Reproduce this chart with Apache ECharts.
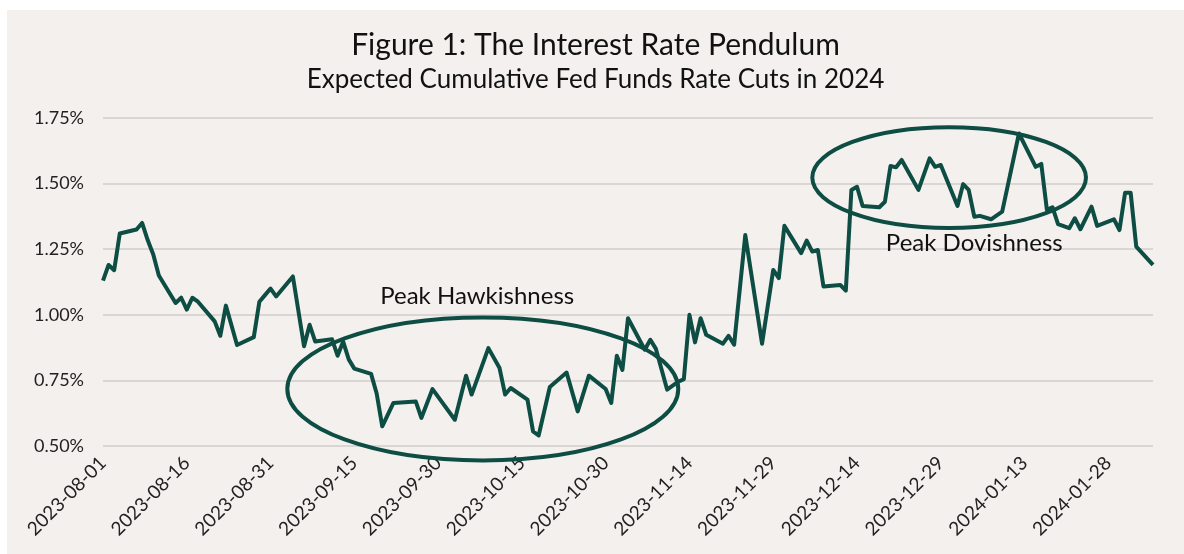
<!DOCTYPE html>
<html>
<head>
<meta charset="utf-8">
<script src="https://cdn.jsdelivr.net/npm/echarts@6/dist/echarts.min.js"></script>
<style>
  html, body { margin: 0; padding: 0; background: #ffffff; }
  #wrap { position: absolute; left: 7px; top: 10px; width: 1177px; height: 544px; background: #f3f0ed; }
  #main { width: 1177px; height: 544px; }
</style>
</head>
<body>
<div id="wrap"><div id="main"></div></div>
<script>
var dates = [
    '2023-08-01','2023-08-02','2023-08-03','2023-08-04','2023-08-07','2023-08-08','2023-08-09','2023-08-10','2023-08-11',
    '2023-08-14','2023-08-15','2023-08-16','2023-08-17','2023-08-18','2023-08-21','2023-08-22','2023-08-23','2023-08-24',
    '2023-08-25','2023-08-28','2023-08-29','2023-08-30','2023-08-31','2023-09-01','2023-09-04','2023-09-06','2023-09-07',
    '2023-09-08','2023-09-11','2023-09-12','2023-09-13','2023-09-14','2023-09-15','2023-09-18','2023-09-19','2023-09-20',
    '2023-09-22','2023-09-26','2023-09-27','2023-09-29','2023-10-03','2023-10-05','2023-10-06','2023-10-09','2023-10-11',
    '2023-10-12','2023-10-13','2023-10-16','2023-10-17','2023-10-18','2023-10-20','2023-10-23','2023-10-25','2023-10-27',
    '2023-10-30','2023-10-31','2023-11-01','2023-11-02','2023-11-03','2023-11-06','2023-11-07','2023-11-08','2023-11-10',
    '2023-11-12','2023-11-13','2023-11-14','2023-11-15','2023-11-16','2023-11-17','2023-11-20','2023-11-21','2023-11-22',
    '2023-11-24','2023-11-27','2023-11-29','2023-11-30','2023-12-01','2023-12-04','2023-12-05','2023-12-06','2023-12-07',
    '2023-12-08','2023-12-11','2023-12-12','2023-12-13','2023-12-14','2023-12-15','2023-12-18','2023-12-19','2023-12-20',
    '2023-12-21','2023-12-22','2023-12-25','2023-12-27','2023-12-28','2023-12-29','2024-01-01','2024-01-02','2024-01-03',
    '2024-01-04','2024-01-05','2024-01-07','2024-01-09','2024-01-12','2024-01-15','2024-01-16','2024-01-17','2024-01-18',
    '2024-01-19','2024-01-21','2024-01-22','2024-01-23','2024-01-25','2024-01-26','2024-01-29','2024-01-30','2024-01-31',
    '2024-02-01','2024-02-02','2024-02-05'
];
var cuts = [
    1.13, 1.19, 1.17, 1.31, 1.325, 1.35, 1.285, 1.23, 1.15,
    1.045, 1.065, 1.02, 1.065, 1.05, 0.975, 0.92, 1.035, 0.96,
    0.885, 0.915, 1.05, 1.075, 1.10, 1.07, 1.146, 0.88, 0.962,
    0.898, 0.907, 0.844, 0.898, 0.83, 0.795, 0.775, 0.70, 0.575,
    0.664, 0.67, 0.607, 0.717, 0.60, 0.768, 0.696, 0.873, 0.797,
    0.696, 0.721, 0.677, 0.556, 0.54, 0.725, 0.78, 0.632, 0.768,
    0.717, 0.664, 0.844, 0.79, 0.987, 0.867, 0.905, 0.87, 0.715,
    0.745, 0.755, 1.00, 0.895, 0.987, 0.924, 0.89, 0.92, 0.886,
    1.304, 0.89, 1.171, 1.14, 1.339, 1.235, 1.283, 1.241, 1.247,
    1.108, 1.114, 1.092, 1.476, 1.488, 1.415, 1.41, 1.431, 1.567,
    1.562, 1.59, 1.476, 1.596, 1.564, 1.571, 1.415, 1.498, 1.476,
    1.374, 1.377, 1.364, 1.393, 1.691, 1.564, 1.575, 1.40, 1.41,
    1.346, 1.33, 1.368, 1.326, 1.412, 1.339, 1.364, 1.323, 1.465,
    1.465, 1.26, 1.19
];
var firstDay = '2023-08-01';
var lastDay = '2024-02-05';
var yTicks = [0.50, 0.75, 1.00, 1.25, 1.50, 1.75];

// annotations: text, centre and the ellipse's extent in data terms
var noteText = ['Peak Hawkishness', 'Peak Dovishness'];
var noteTextAt = [['2023-10-07', 1.072], ['2024-01-04', 1.274]];
var ringX = [['2023-09-03', '2023-11-12'], ['2023-12-06', '2024-01-24']];
var ringY = [[0.445, 0.99], [1.331, 1.715]];

var green = '#0d4d43';

// every calendar day on the axis, labels every 15 days
var days = [];
var t = Date.UTC(2023, 7, 1);
var tEnd = Date.UTC(2024, 1, 5);
while (t <= tEnd) {
    days.push(new Date(t).toISOString().slice(0, 10));
    t += 86400000;
}
var lookup = {};
for (var i = 0; i < dates.length; i++) {
    lookup[dates[i]] = cuts[i];
}
var lineData = days.map(function (d) {
    return lookup[d] === undefined ? null : lookup[d];
});

var myChart = echarts.init(document.getElementById('main'));
option = {
    animation: false,
    textStyle: {fontFamily: 'Lato'},
    title: [
        {
            text: 'Figure 1: The Interest Rate Pendulum',
            left: 'center',
            top: 15,
            padding: [5, 0, 5, 7],
            textStyle: {fontFamily: 'Lato', fontSize: 30, fontWeight: 'normal', color: '#111'}
        },
        {
            text: 'Expected Cumulative Fed Funds Rate Cuts in 2024',
            left: 'center',
            top: 52,
            padding: [5, 0, 5, 7],
            textStyle: {fontFamily: 'Lato', fontSize: 26, fontWeight: 'normal', color: '#111'}
        }
    ],
    grid: {
        left: 96,
        right: 31,
        top: 108,
        bottom: 108
    },
    xAxis: {
        type: 'category',
        boundaryGap: false,
        data: days,
        axisLine: {show: false},
        axisTick: {show: false},
        axisLabel: {
            interval: 14,
            rotate: 45,
            margin: 14,
            fontSize: 19,
            color: '#222'
        }
    },
    yAxis: {
        type: 'value',
        min: yTicks[0],
        max: yTicks[yTicks.length - 1],
        interval: 0.25,
        axisLine: {show: false},
        axisTick: {show: false},
        axisLabel: {
            margin: 19,
            fontSize: 18,
            color: '#222',
            formatter: function (v) { return v.toFixed(2) + '%'; }
        },
        splitLine: {lineStyle: {color: '#d9d6d3', width: 2}}
    },
    series: [
        {
            name: 'Expected cuts',
            type: 'line',
            data: lineData,
            connectNulls: true,
            showSymbol: false,
            symbol: 'none',
            lineStyle: {color: green, width: 4, join: 'round'},
            z: 3
        }
    ]
};
myChart.setOption(option);

// ellipses and their labels, placed through the chart's own scales
var graphics = [];
for (var k = 0; k < noteText.length; k++) {
    var a = myChart.convertToPixel({xAxisIndex: 0, yAxisIndex: 0}, [ringX[k][0], ringY[k][0]]);
    var b = myChart.convertToPixel({xAxisIndex: 0, yAxisIndex: 0}, [ringX[k][1], ringY[k][1]]);
    graphics.push({
        type: 'ellipse',
        shape: {
            cx: (a[0] + b[0]) / 2,
            cy: (a[1] + b[1]) / 2,
            rx: Math.abs(b[0] - a[0]) / 2,
            ry: Math.abs(b[1] - a[1]) / 2
        },
        style: {fill: 'none', stroke: green, lineWidth: 4},
        z: 10
    });
    var p = myChart.convertToPixel({xAxisIndex: 0, yAxisIndex: 0}, noteTextAt[k]);
    graphics.push({
        type: 'text',
        x: p[0],
        y: p[1],
        style: {
            text: noteText[k],
            fontFamily: 'Lato',
            fontSize: 24,
            fill: '#111',
            align: 'center',
            verticalAlign: 'middle'
        },
        z: 10
    });
}
myChart.setOption({graphic: graphics});
</script>
</body>
</html>
